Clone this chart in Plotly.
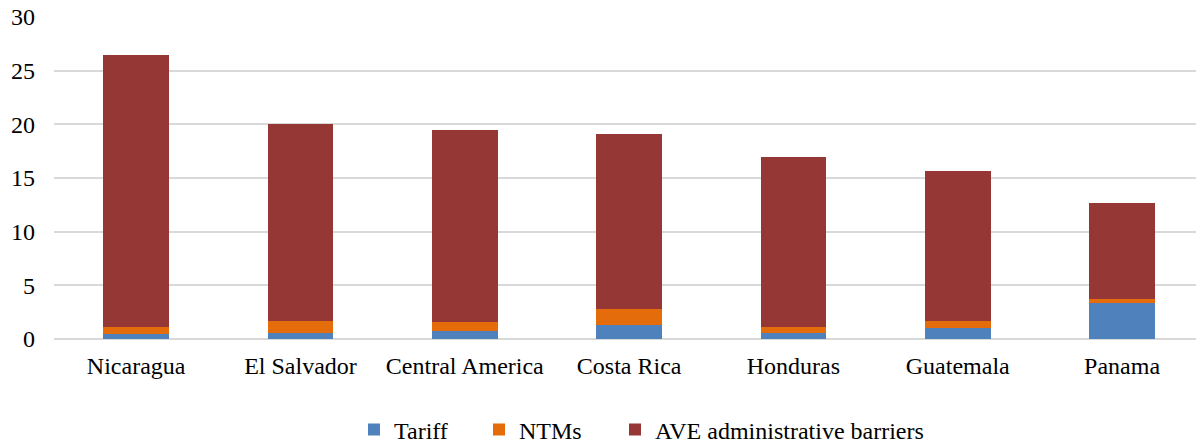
import plotly.graph_objects as go

countries = ["Nicaragua", "El Salvador", "Central America", "Costa Rica",
             "Honduras", "Guatemala", "Panama"]
tariff = [0.45, 0.6, 0.75, 1.35, 0.6, 1.05, 3.4]
ntms = [0.65, 1.1, 0.85, 1.45, 0.55, 0.6, 0.3]
ave_admin = [25.35, 18.35, 17.85, 16.3, 15.8, 14.0, 8.95]
y_ticks = [0, 5, 10, 15, 20, 25, 30]

serif = "Times New Roman, Liberation Serif, serif"
W, H = 1196, 444

# one single-entry legend per series, placed along the bottom edge
series = [
    ("Tariff", tariff, "#4F81BD", "legend", 354),
    ("NTMs", ntms, "#E46C0A", "legend2", 479),
    ("AVE administrative barriers", ave_admin, "#953735", "legend3", 615),
]

fig = go.Figure()
legends = {}
for name, vals, color, leg, left_px in series:
    fig.add_trace(go.Bar(x=countries, y=vals, name=name, legend=leg,
                         marker=dict(color=color, line=dict(width=0)),
                         width=0.4))
    legends[leg] = dict(orientation="h", xref="container", yref="container",
                        x=left_px / W, xanchor="left",
                        y=1 - 430 / H, yanchor="middle",
                        bgcolor="rgba(0,0,0,0)",
                        font=dict(family=serif, size=24, color="#000000"))

fig.update_layout(
    barmode="stack",
    width=W, height=H,
    margin=dict(l=54, r=0, t=17, b=105, autoexpand=False),
    paper_bgcolor="white", plot_bgcolor="white",
    font=dict(family=serif, size=24, color="#000000"),
    showlegend=True,
    xaxis=dict(range=[-0.5, 6.45], showgrid=False, showline=False,
               ticks="", ticklabelstandoff=10,
               tickfont=dict(family=serif, size=24, color="#000000")),
    yaxis=dict(range=[0, 30], tickvals=y_ticks, showgrid=True,
               gridcolor="#d9d9d9", gridwidth=1.5, zeroline=True,
               zerolinecolor="#d9d9d9", zerolinewidth=1.5,
               showline=False, ticks="", ticklabelstandoff=18,
               tickfont=dict(family=serif, size=24, color="#000000")),
    **legends,
)

fig.write_html("out.html")
